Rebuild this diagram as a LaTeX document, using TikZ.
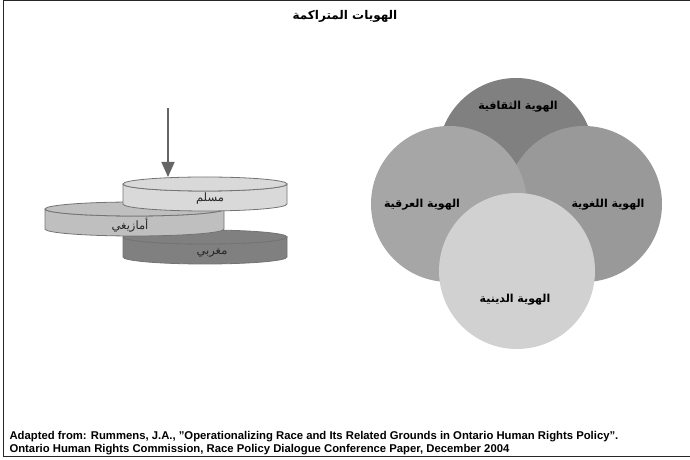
\documentclass[tikz,border=0pt]{standalone}
\usepackage{fontspec}
\setmainfont{Liberation Sans}
\newfontfamily\arabicfont[Script=Arabic]{DejaVu Sans}
\TeXXeTstate=1
\usetikzlibrary{arrows.meta,calc}
\newcommand\AR[1]{{\arabicfont\beginR #1\endR}}
\newcommand\disc[4]{%
    \begin{scope}[shift={#2}]
        \filldraw[disc line,fill=#4] (-#3,0) -- (-#3,-20)
            arc[start angle=180,end angle=360,x radius=#3,y radius=7]
            -- (#3,0) arc[start angle=0,end angle=-180,x radius=#3,y radius=7];
        \filldraw[disc line,fill=#4] (0,0) ellipse[x radius=#3,y radius=7];
        \coordinate (#1) at (0,-10);
        \coordinate (#1 top) at (0,7);
    \end{scope}}

\begin{document}
\begin{tikzpicture}[
        x=1pt, y=1pt,
        disc line/.style={draw=black!55, line width=0.8pt},
        ident/.style={circle, minimum size=156pt, inner sep=0pt},
        ident label/.style={font=\arabicfont\bfseries\fontsize{11}{13}\selectfont},
        disc label/.style={font=\arabicfont\fontsize{11.5}{13}\selectfont, text=black!85},
        drop/.style={draw=black!60, line width=1.5pt,
            -{Triangle[width=13pt,length=15pt]}},
    ]
    \useasboundingbox (0,0) rectangle (690,460);
    \draw[black!85, line width=1pt] (690,459.5) -- (3,459.5) -- (3,3) -- (690,3);

    \node[font=\arabicfont\bfseries\fontsize{12}{14}\selectfont] (title) at (345,444)
        {\beginR الهويات المتراكمة\endR};

    % stacked discs
    \disc{maghribi}{(205,223)}{82}{black!50}
    \disc{amazigh}{(134.5,251)}{89.5}{black!25}
    \disc{muslim}{(205,276)}{82}{black!15}

    \node[disc label] (l muslim) at (210,261) {\AR{مسلم}};
    \node[disc label] (l amazigh) at (130,235) {\AR{أمازيغي}};
    \node[disc label] (l maghribi) at (212,207) {\AR{مغربي}};

    \coordinate (drop start) at (168,352);
    \draw[drop] (drop start) -- (drop start |- muslim top);

    % overlapping identities
    \node[ident, fill=black!50] (cultural) at (516,304) {};
    \node[ident, fill=black!40] (linguistic) at (584,256) {};
    \node[ident, fill=black!35] (ethnic) at (449,256) {};
    \node[ident, fill=black!18] (religious) at (517,189) {};

    \node[ident label] (l cultural) at ($(cultural)+(2,49)$) {\AR{الهوية الثقافية}};
    \node[ident label] (l ethnic) at ($(ethnic)+(-27,-1)$) {\AR{الهوية العرقية}};
    \node[ident label] (l linguistic) at ($(linguistic)+(24,-1)$) {\AR{الهوية اللغوية}};
    \node[ident label] (l religious) at ($(religious)+(-2,-29)$) {\AR{الهوية الدينية}};

    \node[anchor=base west, align=left, font=\bfseries\fontsize{11.3}{14}\selectfont] (source) at (6,7)
        {Adapted from: Rummens, J.A., "Operationalizing Race and Its Related Grounds in Ontario Human Rights Policy".\\
         Ontario Human Rights Commission, Race Policy Dialogue Conference Paper, December 2004};
\end{tikzpicture}
\end{document}
